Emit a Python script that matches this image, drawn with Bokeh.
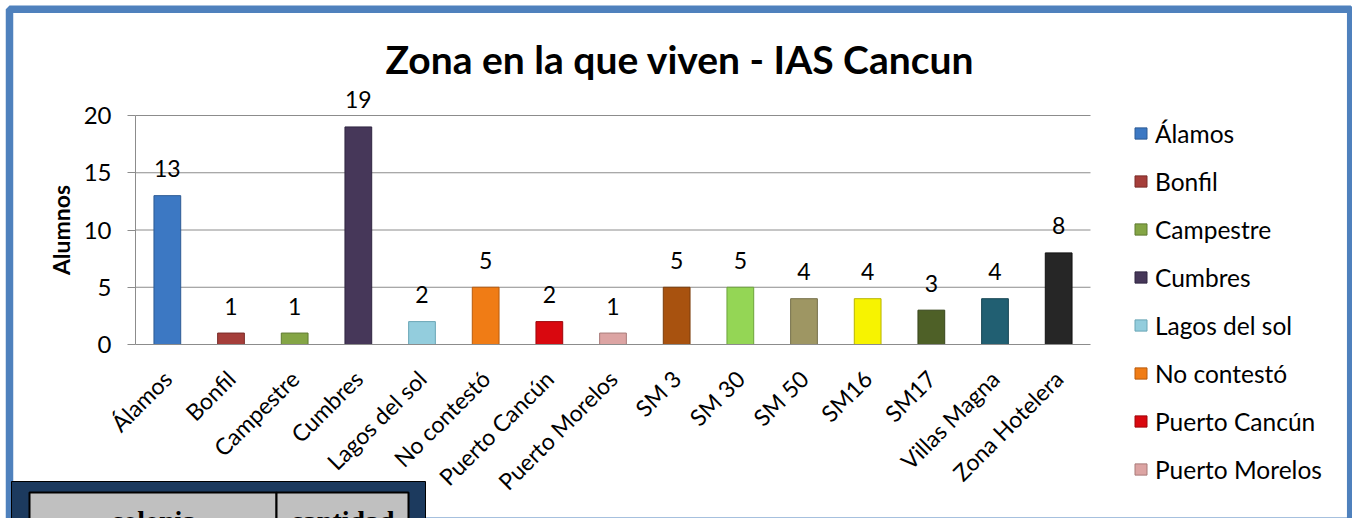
from math import pi
from bokeh.plotting import figure
from bokeh.models import (ColumnDataSource, Range1d, BoxAnnotation, Label,
                          FixedTicker, Legend, LegendItem)
from bokeh.core.properties import value
from bokeh.embed import file_html
from bokeh.resources import INLINE

# ---------------- data ----------------
categories = ["Álamos", "Bonfil", "Campestre", "Cumbres", "Lagos del sol",
              "No contestó", "Puerto Cancún", "Puerto Morelos", "SM 3", "SM 30",
              "SM 50", "SM16", "SM17", "Villas Magna", "Zona Hotelera"]
alumnos = [13, 1, 1, 19, 2, 5, 2, 1, 5, 5, 4, 4, 3, 4, 8]
y_ticks = [0, 5, 10, 15, 20]
title_text = "Zona en la que viven - IAS Cancun"
y_label = "Alumnos"
table_headers = ["colonia", "cantidad"]
legend_shown = 8          # the chart's legend only has room for the first 8 entries

# ---------------- styles ----------------
bar_colors = ["#3c78c3", "#a53e3a", "#84a545", "#463759", "#93cddd",
              "#f07c15", "#d9080f", "#dca4a3", "#a8520f", "#94d655",
              "#9e9663", "#f7f300", "#4e6027", "#215f72", "#262626"]
edge_colors = ["#2c5a94", "#7a2b28", "#5f7a30", "#2f2540", "#6aa6b6",
               "#b85b0c", "#9e060b", "#a87a79", "#7a3c0b", "#6da23c",
               "#746f48", "#b8b500", "#38461c", "#174554", "#111111"]

FONT = "Lato"
AXIS_GRAY = "#8c8c8c"

W, H = 1352, 518                       # canvas (page has no margin)
PL, PR, PT, PB = 135, 1090, 115, 344   # plot area (px)
n_cat = len(categories)
ux = (PR - PL) / n_cat
uy = (PB - PT) / (y_ticks[-1] - y_ticks[0])

idx = list(range(n_cat))
src = ColumnDataSource(dict(x=idx, cat=categories, n=alumnos, color=bar_colors,
                            edge=edge_colors, lbl=[str(v) for v in alumnos]))

x0 = -0.5 - PL / ux
x1 = n_cat - 0.5 + (W - PR) / ux
y0 = y_ticks[0] - (H - PB) / uy
y1 = y_ticks[-1] + PT / uy

p = figure(width=W, height=H, x_range=Range1d(x0, x1), y_range=Range1d(y0, y1),
           output_backend="svg", toolbar_location=None,
           min_border=0, min_border_left=0, min_border_right=0,
           min_border_top=0, min_border_bottom=0)
p.title.text = ""
p.outline_line_color = None
p.background_fill_color = "white"
p.border_fill_color = "white"
p.xgrid.visible = False
p.ygrid.visible = False

def sbox(left, right, top, bottom, **kw):
    """box given in page pixels (top/bottom measured from the top)."""
    return BoxAnnotation(left=left, right=right, top=H - top, bottom=H - bottom,
                         left_units="screen", right_units="screen",
                         top_units="screen", bottom_units="screen", **kw)

# chart frame (blue border)
p.add_layout(sbox(9, 1350.2, 8.8, 520.8, fill_alpha=0, line_color="#4f81bd",
                  line_alpha=1, line_width=7.5, level="underlay"))

# horizontal gridlines
p.segment(x0=-0.5, x1=n_cat - 0.5, y0=y_ticks[1:], y1=y_ticks[1:],
          line_color=AXIS_GRAY, line_width=1)

bars = p.vbar(x="x", top="n", bottom=0, width=0.42, fill_color="color",
              line_color="edge", line_width=1, source=src)

p.text(x="x", y="n", text="lbl", source=src, text_align="center",
       text_baseline="alphabetic", y_offset=-27, text_font=value(FONT),
       text_font_size="23px", text_color="black")

# axes (drawn at fixed data locations)
p.yaxis.fixed_location = -0.5
p.yaxis.bounds = (y_ticks[0], y_ticks[-1])
p.yaxis.ticker = FixedTicker(ticks=y_ticks)
p.yaxis.axis_label = y_label
p.yaxis.axis_label_text_font = FONT
p.yaxis.axis_label_text_font_style = "bold"
p.yaxis.axis_label_text_font_size = "23px"
p.yaxis.axis_label_text_color = "black"
p.yaxis.axis_label_standoff = 6
p.yaxis.major_label_text_font = FONT
p.yaxis.major_label_text_font_size = "24px"
p.yaxis.major_label_text_color = "black"
p.yaxis.major_label_standoff = 16
p.yaxis.major_tick_out = 8
p.yaxis.major_tick_in = 0
p.yaxis.minor_tick_line_color = None
p.yaxis.major_tick_line_color = AXIS_GRAY
p.yaxis.axis_line_color = AXIS_GRAY

p.xaxis.fixed_location = 0
p.xaxis.bounds = (-0.5, n_cat - 0.5)
p.xaxis.ticker = FixedTicker(ticks=idx)
p.xaxis.major_label_overrides = {i: c for i, c in zip(idx, categories)}
p.xaxis.major_label_orientation = pi / 4
p.xaxis.major_label_text_font = FONT
p.xaxis.major_label_text_font_size = "23px"
p.xaxis.major_label_text_color = "black"
p.xaxis.major_label_standoff = 24
p.xaxis.major_tick_line_color = None
p.xaxis.minor_tick_line_color = None
p.xaxis.axis_line_color = AXIS_GRAY

# legend (only the first entries fit inside the chart, as in the reference)
items = [LegendItem(label=c, renderers=[bars], index=i)
         for i, c in enumerate(categories[:legend_shown])]
item_h, gap = 30, 18
leg_h = legend_shown * item_h + (legend_shown - 1) * gap
lg = Legend(items=items, location=(1133, H - 118 - leg_h), margin=0, padding=0,
            spacing=gap, glyph_width=15, glyph_height=14, label_height=item_h,
            label_standoff=7, label_text_font=FONT, label_text_font_size="24.5px",
            label_text_color="black", border_line_alpha=0, background_fill_alpha=0)
p.add_layout(lg, "center")

# title
p.add_layout(Label(x=679.5, y=H - 58, x_units="screen", y_units="screen",
                   text=title_text, text_align="center", text_baseline="alphabetic",
                   text_font=FONT, text_font_style="bold", text_font_size="39px",
                   text_color="black"))

# table partly visible at bottom-left
p.add_layout(sbox(11, 425, 481, 540, fill_color="#1c3a5e", fill_alpha=1,
                  line_color="black", line_alpha=1, line_width=1))
for cl, cr in [(29, 276), (276, 408)]:
    p.add_layout(sbox(cl, cr, 492, 550, fill_color="#c0c0c0", fill_alpha=1,
                      line_color="black", line_alpha=1, line_width=2))
for hx, htxt in zip([153, 342], table_headers):
    p.add_layout(Label(x=hx, y=H - 520, x_units="screen", y_units="screen",
                       text=htxt, text_align="center", text_baseline="alphabetic",
                       text_font="Liberation Serif", text_font_style="bold",
                       text_font_size="28px", text_color="black"))

open("out.html", "w").write(file_html(p, INLINE))
